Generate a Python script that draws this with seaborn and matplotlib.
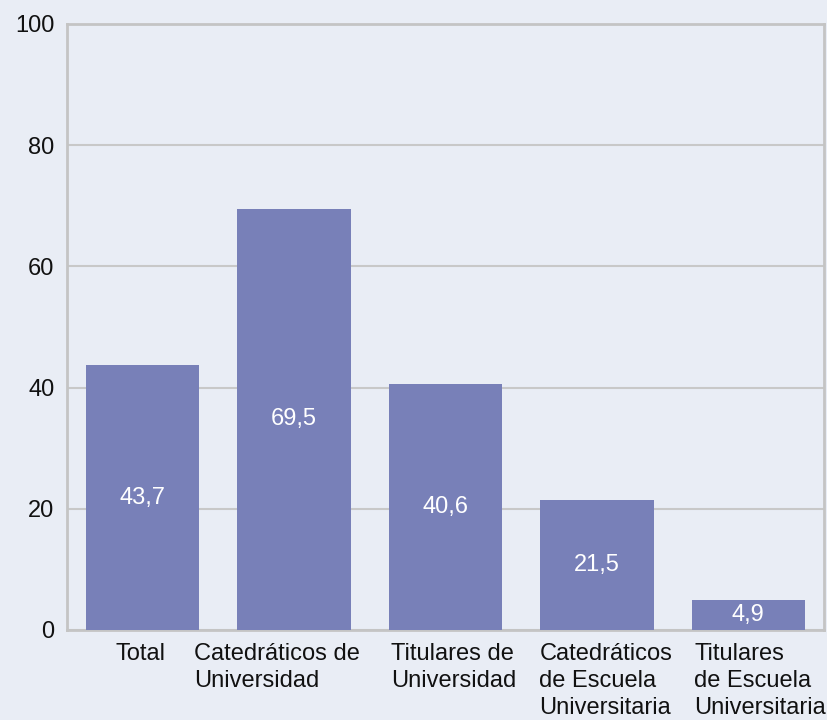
import matplotlib
matplotlib.use("Agg")
import matplotlib.pyplot as plt
import matplotlib.transforms as mtransforms
import seaborn as sns
import pandas as pd

categorias = ["Total", "Catedráticos de\nUniversidad", "Titulares de\nUniversidad",
              "Catedráticos\nde Escuela\nUniversitaria", "Titulares\nde Escuela\nUniversitaria"]
valores = [43.7, 69.5, 40.6, 21.5, 4.9]
etiquetas = ["43,7", "69,5", "40,6", "21,5", "4,9"]


def main():
    sns.set_theme(style="white")
    plt.rcParams["font.family"] = ["Liberation Sans", "DejaVu Sans"]
    fondo = "#e9edf5"
    df = pd.DataFrame({"cat": categorias, "val": valores})

    fig = plt.figure(figsize=(8.27, 7.2), dpi=100, facecolor=fondo)
    ax = fig.add_axes([67 / 827, 90 / 720, 757 / 827, 606 / 720])
    ax.set_facecolor(fondo)

    sns.barplot(data=df, x="cat", y="val", color="#7880b8", saturation=1,
                width=0.75, linewidth=0, ax=ax, zorder=3)
    ax.set_xlim(-0.5, 4.5)
    ax.set_ylim(0, 100)
    ax.set_yticks([0, 20, 40, 60, 80, 100])
    ax.yaxis.grid(True, color="#c8c8c8", linewidth=1.5, zorder=0)
    ax.set_xlabel("")
    ax.set_ylabel("")
    for s in ax.spines.values():
        s.set_color("#c4c4c4")
        s.set_linewidth(2)
    ax.tick_params(axis="both", labelsize=17, colors="#111111", length=0)
    ax.tick_params(axis="x", pad=9)
    ax.tick_params(axis="y", pad=9)
    # desplazamiento horizontal de las etiquetas (px), como en el original
    desp = [-2, -17, 8, 9, 12]
    for lab, d in zip(ax.get_xticklabels(), desp):
        lab.set_multialignment("left")
        lab.set_verticalalignment("top")
        lab.set_linespacing(1.3)
        lab.set_transform(lab.get_transform() + mtransforms.ScaledTranslation(d / 100, 0, fig.dpi_scale_trans))

    for i, (v, t) in enumerate(zip(valores, etiquetas)):
        ax.text(i, v / 2, t, ha="center", va="center", color="white", fontsize=17, zorder=4)

    fig.savefig("out.png", dpi=100, facecolor=fondo)


if __name__ == "__main__":
    main()
